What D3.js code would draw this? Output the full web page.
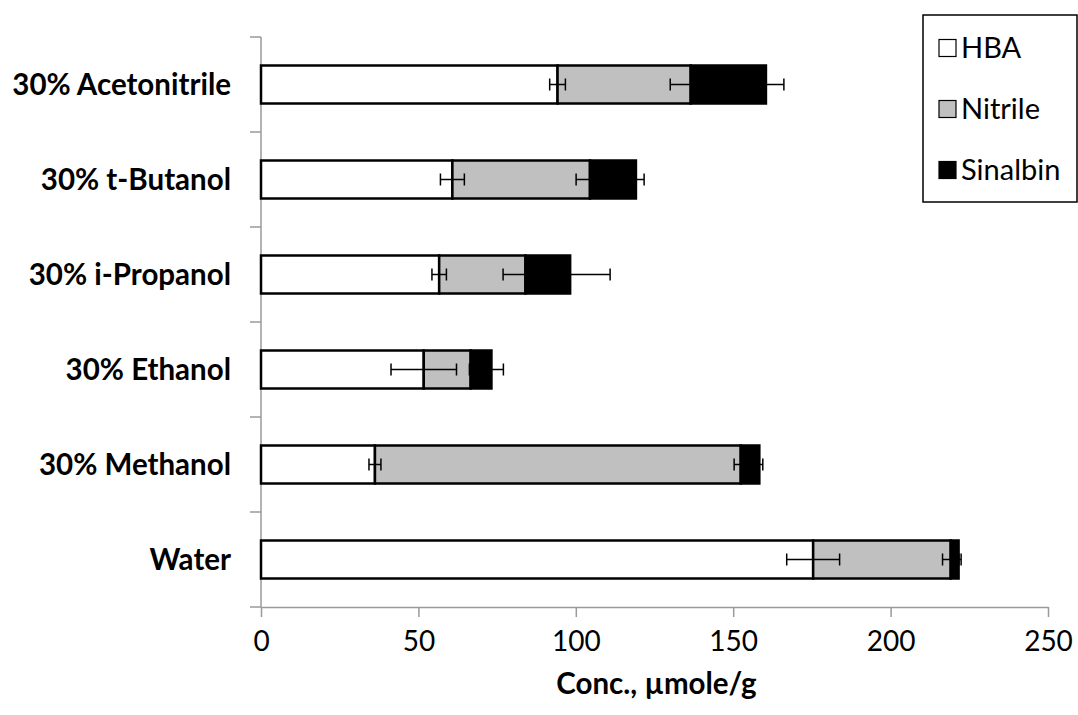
<!DOCTYPE html>
<html>
<head>
<meta charset="utf-8">
<script src="https://cdn.jsdelivr.net/npm/d3@7"></script>
<style>
  body { margin: 0; background: #fff; }
  svg { display: block; font-family: Lato, "Open Sans", sans-serif; }
</style>
</head>
<body>
<svg id="chart" width="1078" height="715"></svg>
<script>
// categories, top to bottom
var categories = ["30% Acetonitrile", "30% t-Butanol", "30% i-Propanol", "30% Ethanol", "30% Methanol", "Water"];
var seriesNames = ["HBA", "Nitrile", "Sinalbin"];
var seriesColors = ["#ffffff", "#c0c0c0", "#000000"];

// stacked values (umole/g)
var hba      = [94.2, 60.8, 56.6, 51.7, 36.2, 175.4];
var nitrile  = [42.3, 43.7, 27.4, 14.9, 116.2, 43.7];
var sinalbin = [23.9, 14.6, 14.2, 6.6, 5.9, 2.5];

// error bar half widths
var hbaErr      = [2.5, 3.8, 2.3, 10.4, 1.9, 8.4];
var nitrileErr  = [6.5, 4.4, 7.1, 0.4, 2.1, 2.6];
var sinalbinErr = [5.7, 2.6, 12.7, 3.8, 1.1, 0.8];

var xTicks = [0, 50, 100, 150, 200, 250];
var xTitle = "Conc., \u00b5mole/g";

var svg = d3.select("#chart");
var plot = {left: 261, right: 1048, top: 37, bottom: 607};

var x = d3.scaleLinear().domain([0, 250]).range([plot.left, plot.right]);
var y = d3.scaleBand().domain(categories).range([plot.top, plot.bottom])
   .paddingInner(0.6).paddingOuter(0.3);

// build stacked rows
var rows = categories.map(function(c, i){
   return {cat: c, HBA: hba[i], Nitrile: nitrile[i], Sinalbin: sinalbin[i]};
});
var stacked = d3.stack().keys(seriesNames)(rows);
var errs = [hbaErr, nitrileErr, sinalbinErr];

//Axes
var axisColor = "#9a9a9a";
var xAxis = svg.append("g")
   .attr("transform", "translate(0," + plot.bottom + ")")
   .call(d3.axisBottom(x).tickValues(xTicks).tickSize(10).tickSizeOuter(0).tickPadding(14));
xAxis.select(".domain").attr("stroke", axisColor).attr("stroke-width", 1.5);
xAxis.selectAll(".tick line").attr("stroke", axisColor).attr("stroke-width", 1.5);
xAxis.selectAll(".tick text")
   .attr("fill", "#000")
   .style("font-size", "28px")
   .style("font-family", "Lato, sans-serif");

svg.append("line")
   .attr("x1", plot.left).attr("x2", plot.left)
   .attr("y1", plot.top).attr("y2", plot.bottom)
   .attr("stroke", axisColor).attr("stroke-width", 1.5);

// y ticks at band boundaries
var yTickPos = d3.range(categories.length + 1).map(function(i){ return plot.top + i * y.step(); });
svg.selectAll("line.ytick")
   .data(yTickPos)
   .enter()
   .append("line")
   .attr("class", "ytick")
   .attr("x1", plot.left - 11).attr("x2", plot.left)
   .attr("y1", function(d){ return d; })
   .attr("y2", function(d){ return d; })
   .attr("stroke", axisColor).attr("stroke-width", 1.5);

// category labels
svg.selectAll("text.cat")
   .data(categories)
   .enter()
   .append("text")
   .attr("class", "cat")
   .attr("text-anchor", "end")
   .attr("x", 231)
   .attr("y", function(d){ return y(d) + y.bandwidth() / 2; })
   .attr("dy", "0.36em")
   .style("font-size", "29.5px")
   .style("font-weight", "bold")
   .text(function(d){ return d; });

//Bars
stacked.forEach(function(layer, k){
   svg.selectAll("rect.s" + k)
      .data(layer)
      .enter()
      .append("rect")
      .attr("class", "s" + k)
      .attr("x", function(d){ return x(d[0]); })
      .attr("width", function(d){ return x(d[1]) - x(d[0]); })
      .attr("y", function(d){ return y(d.data.cat); })
      .attr("height", y.bandwidth())
      .attr("fill", seriesColors[k])
      .attr("stroke", "#000")
      .attr("stroke-width", 2.5);
});

//Error bars, drawn at the end of each segment
var capH = 12;
stacked.forEach(function(layer, k){
   var g = svg.append("g").attr("stroke", "#000").attr("stroke-width", 1.5);
   layer.forEach(function(d, i){
      var cy = y(d.data.cat) + y.bandwidth() / 2;
      var lo = x(d[1] - errs[k][i]), hi = x(d[1] + errs[k][i]);
      g.append("line").attr("x1", lo).attr("x2", hi).attr("y1", cy).attr("y2", cy);
      g.append("line").attr("x1", lo).attr("x2", lo).attr("y1", cy - capH / 2).attr("y2", cy + capH / 2);
      g.append("line").attr("x1", hi).attr("x2", hi).attr("y1", cy - capH / 2).attr("y2", cy + capH / 2);
   });
});

// x axis title
svg.append("text")
   .attr("x", x(125) + 2)
   .attr("y", 694)
   .attr("text-anchor", "middle")
   .style("font-size", "29.5px")
   .style("font-weight", "bold")
   .text(xTitle);

//Legend
var legend = svg.append("g");
legend.append("rect")
   .attr("x", 923).attr("y", 15)
   .attr("width", 154).attr("height", 187)
   .attr("fill", "#fff").attr("stroke", "#000").attr("stroke-width", 1.5);
var item = legend.selectAll("g.item")
   .data(seriesNames)
   .enter()
   .append("g")
   .attr("class", "item")
   .attr("transform", function(d, i){ return "translate(939," + (48 + i * 61) + ")"; });
item.append("rect")
   .attr("x", 0).attr("y", -8.5)
   .attr("width", 17).attr("height", 17)
   .attr("fill", function(d, i){ return seriesColors[i]; })
   .attr("stroke", "#000").attr("stroke-width", 1.2);
item.append("text")
   .attr("x", 22)
   .attr("dy", "0.36em")
   .style("font-size", "29px")
   .text(function(d){ return d; });
</script>
</body>
</html>
